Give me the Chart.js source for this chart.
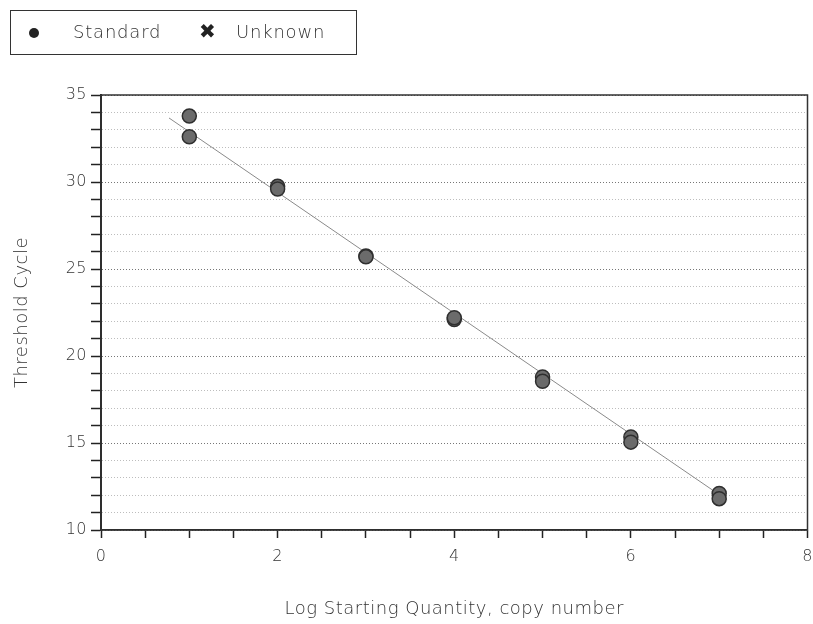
<!DOCTYPE html>
<html>
<head>
<meta charset="utf-8">
<script src="https://cdn.jsdelivr.net/npm/chart.js@4/dist/chart.umd.min.js"></script>
<style>
  html, body { margin: 0; padding: 0; background: #fff; overflow: hidden; }
  #wrap { position: relative; width: 813px; height: 624px; overflow: hidden; }
  #legend {
    position: absolute; left: 10px; top: 10px; width: 345px; height: 43px;
    border: 1px solid #333; font-family: "DejaVu Sans", sans-serif; font-size: 18px;
    font-weight: 300; color: #333; letter-spacing: 0.8px; box-sizing: content-box;
  }
  #legend span { position: absolute; top: 10px; }
  #legend .dot { position: absolute; left: 18px; top: 17px; width: 10px; height: 10px; border-radius: 50%; background: #222; }
</style>
</head>
<body>
<div id="wrap">
  <canvas id="chart" width="816" height="624"></canvas>
  <div id="legend">
    <div class="dot"></div>
    <span style="left:62px;">Standard</span>
    <span style="left:188px; font-size:20px; font-weight:bold; top:8px; color:#222;">✖</span>
    <span style="left:225px;">Unknown</span>
  </div>
</div>
<script>
// Standard curve points (log quantity vs Ct)
const standardX = [1, 1, 2, 2, 3, 3, 4, 4, 5, 5, 6, 6, 7, 7];
const standardY = [33.79, 32.6, 29.75, 29.6, 25.75, 25.7, 22.1, 22.2, 18.8, 18.55, 15.35, 15.05, 12.1, 11.8];
// No unknowns plotted
const unknownX = [];
const unknownY = [];
// Regression line end points
const fitX = [0.77, 7.09];
const fitY = [33.68, 11.72];

const toPoints = (xs, ys) => xs.map((x, i) => ({ x: x, y: ys[i] }));

// Wider letter spacing like the original rendering
const spacing = {
  id: 'spacing',
  beforeUpdate(chart) { chart.ctx.letterSpacing = '0.5px'; },
  beforeDraw(chart) { chart.ctx.letterSpacing = '0.5px'; }
};

// Box around the plot area (top and right edges)
const frame = {
  id: 'frame',
  beforeDatasetsDraw(chart) {
    const a = chart.chartArea, ctx = chart.ctx;
    ctx.save();
    ctx.strokeStyle = '#333';
    ctx.lineWidth = 1.5;
    ctx.strokeRect(a.left, a.top, a.right - a.left, a.bottom - a.top);
    ctx.restore();
  }
};

const font = { family: '"DejaVu Sans", sans-serif', size: 16, weight: 300 };
const titleFont = { family: '"DejaVu Sans", sans-serif', size: 18, weight: 300 };

new Chart(document.getElementById('chart'), {
  type: 'scatter',
  data: {
    datasets: [
      {
        label: 'Standard',
        data: toPoints(standardX, standardY),
        pointRadius: 7,
        pointHoverRadius: 7,
        backgroundColor: '#6b6b6b',
        borderColor: '#2f2f2f',
        borderWidth: 1.5,
        order: 1
      },
      {
        label: 'Unknown',
        data: toPoints(unknownX, unknownY),
        pointStyle: 'crossRot',
        pointRadius: 6,
        borderColor: '#222',
        order: 1
      },
      {
        label: 'fit',
        type: 'line',
        data: toPoints(fitX, fitY),
        showLine: true,
        pointRadius: 0,
        borderColor: '#8a8a8a',
        borderWidth: 1,
        order: 2
      }
    ]
  },
  options: {
    responsive: false,
    animation: false,
    layout: { padding: { left: 0, right: 0, top: 95, bottom: 0 } },
    plugins: { legend: { display: false }, tooltip: { enabled: false } },
    scales: {
      x: {
        type: 'linear',
        min: 0, max: 8,
        afterFit(s) { s.height = 94; s.paddingRight = 0; s.paddingLeft = 0; },
        border: { color: '#222', width: 1.5 },
        grid: { drawOnChartArea: false, tickLength: 8, tickColor: '#222', tickWidth: 1.5 },
        ticks: {
          stepSize: 0.5, autoSkip: false, maxRotation: 0, padding: 9,
          color: '#333', font: font,
          callback: v => (v % 2 === 0 ? String(v) : '')
        },
        title: {
          display: true, text: 'Log Starting Quantity, copy number',
          color: '#333', font: titleFont,
          padding: { top: 0, bottom: 4 }
        }
      },
      y: {
        min: 10, max: 35,
        afterFit(s) { s.width = 101; },
        border: { color: '#222', width: 2, dash: [1, 2] },
        grid: {
          tickLength: 10,
          tickColor: '#222',
          tickWidth: 1.5,
          tickBorderDash: [],
          color: c => (c.tick && c.tick.value % 5 === 0 ? '#777' : '#bdbdbd'),
          lineWidth: 1
        },
        ticks: {
          stepSize: 1, autoSkip: false, padding: 4,
          color: '#333', font: font,
          callback: v => (v % 5 === 0 ? String(v) : '')
        },
        title: {
          display: true, text: 'Threshold Cycle',
          color: '#333', font: titleFont,
          padding: { top: 12, bottom: 0 }
        }
      }
    }
  },
  plugins: [spacing, frame]
});
</script>
</body>
</html>
